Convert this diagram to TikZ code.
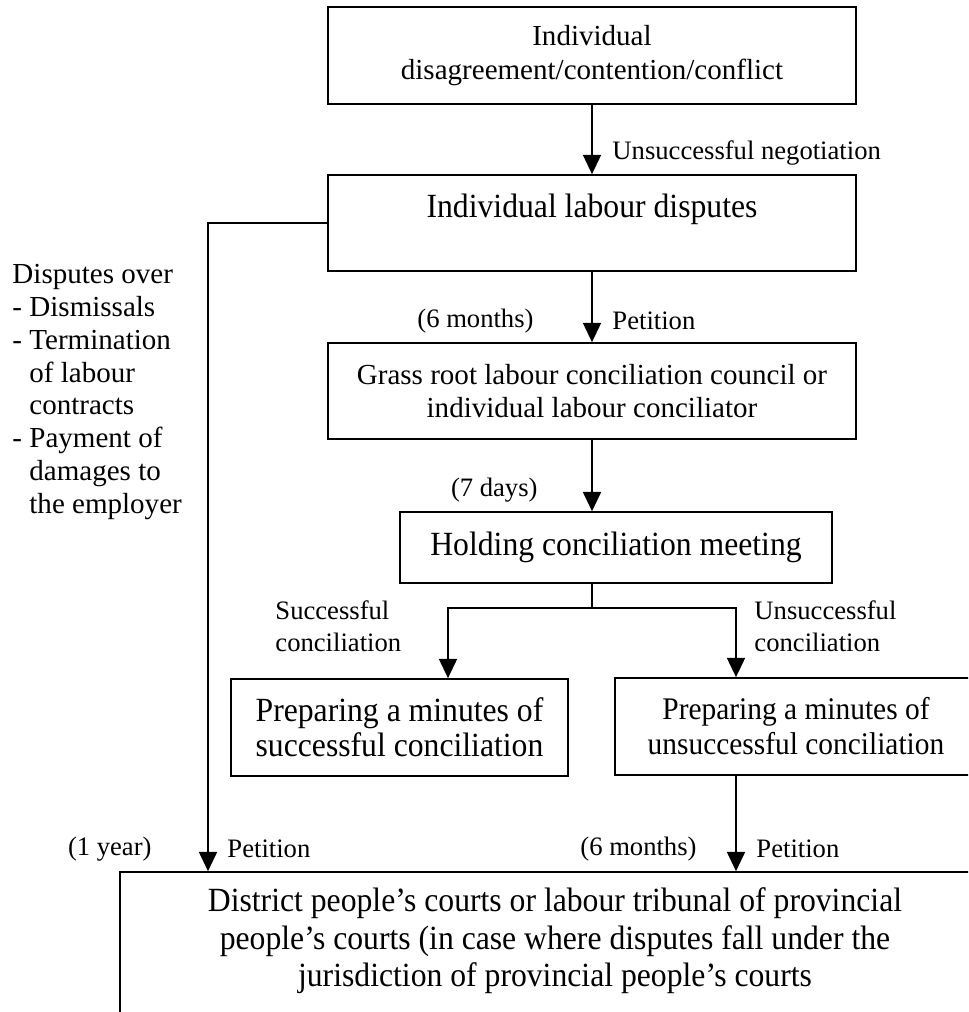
\documentclass[tikz,border=0pt]{standalone}
\usepackage{fontspec}
\setmainfont{Liberation Serif}
\newfontfamily\condfont[FakeStretch=0.935]{Liberation Serif}
\usetikzlibrary{arrows.meta}
\newcommand{\lblsize}{\fontsize{11}{13.2}\selectfont}
\newcommand{\boxsize}{\fontsize{12}{13.9}\selectfont}
\newcommand{\bigsize}{\condfont\fontsize{14}{14.5}\selectfont}
\tikzset{
  stage/.style={draw, line width=0.7pt, inner sep=0pt, align=center},
  flow/.style={-{Triangle[width=7.5pt,length=8pt]}, line width=0.7pt},
  note/.style={inner sep=0pt, font=\lblsize},
}

\begin{document}
\begin{tikzpicture}[x=0.4132pt, y=-0.4132pt]
\useasboundingbox (0,0) rectangle (968,1012);
\clip (0,0) rectangle (968,1012);
% boxes of the procedure
\node[stage, font=\boxsize, minimum width=218.2pt, minimum height=40.1pt] (conflict) at (592,55.5) {Individual\\disagreement/contention/conflict};
\node[stage, font=\bigsize, minimum width=218.2pt, minimum height=39.7pt] (dispute) at (592,223) {Individual labour disputes\\\mbox{}};
\node[stage, font=\boxsize, minimum width=218.2pt, minimum height=39.7pt] (council) at (592,391) {Grass root labour conciliation council or\\individual labour conciliator};
\node[stage, font=\bigsize, minimum width=178.5pt, minimum height=29.3pt] (meeting) at (616,547.5) {Holding conciliation meeting};
\node[stage, font=\bigsize, minimum width=139.3pt, minimum height=40.1pt] (success) at (399.5,727.5) {Preparing a minutes of\\successful conciliation};
\node[stage, font=\condfont\fontsize{13}{14.5}\selectfont, minimum width=149.6pt, minimum height=40.1pt] (failure) at (796,726.5) {Preparing a minutes of\\unsuccessful conciliation};
\node[stage, font=\condfont\fontsize{14}{15.5}\selectfont, minimum width=359.5pt, minimum height=69.4pt] (court) at (555,956) {District people’s courts or labour tribunal of provincial\\people’s courts (in case where disputes fall under the\\jurisdiction of provincial people’s courts\\\mbox{}};
\coordinate (fork) at (592,608);
\coordinate (yes) at (448,608);
\coordinate (no) at (736,608);
\coordinate (bypass) at (208,223);
% connectors
\draw[flow] (conflict) -- (dispute);
\draw[flow] (dispute) -- (council);
\draw[flow] (council.south) -- (council.south |- meeting.north);
\draw[line width=0.7pt] (fork |- meeting.south) -- (fork);
\draw[flow] (fork) -- (yes) -- (yes |- success.north);
\draw[flow] (fork) -- (no) -- (no |- failure.north);
\draw[flow] (no |- failure.south) -- (no |- court.north);
\draw[flow] (dispute.west) -- (bypass) -- (bypass |- court.north);
% labels
\node[note, anchor=west] (negot) at (612,153) {Unsuccessful negotiation};
\node[note, anchor=east] (term1) at (534,321) {(6 months)};
\node[note, anchor=west] (pet1) at (612,321) {Petition};
\node[note, anchor=east] (term2) at (538,490) {(7 days)};
\node[note, anchor=west, align=left] (okay) at (275,626) {Successful\\conciliation};
\node[note, anchor=west, align=left] (fail) at (754,626) {Unsuccessful\\conciliation};
\node[note, anchor=east] (term3) at (152,849) {(1 year)};
\node[note, anchor=west] (pet2) at (227,849) {Petition};
\node[note, anchor=east] (term4) at (697,849) {(6 months)};
\node[note, anchor=west] (pet3) at (756,849) {Petition};
\node[anchor=west, align=left, inner sep=0pt, font=\fontsize{12}{13.6}\selectfont] (grounds) at (12,392) {Disputes over\\- Dismissals\\- Termination\\\hphantom{- }of labour\\\hphantom{- }contracts\\- Payment of\\\hphantom{- }damages to\\\hphantom{- }the employer};
\end{tikzpicture}
\end{document}
